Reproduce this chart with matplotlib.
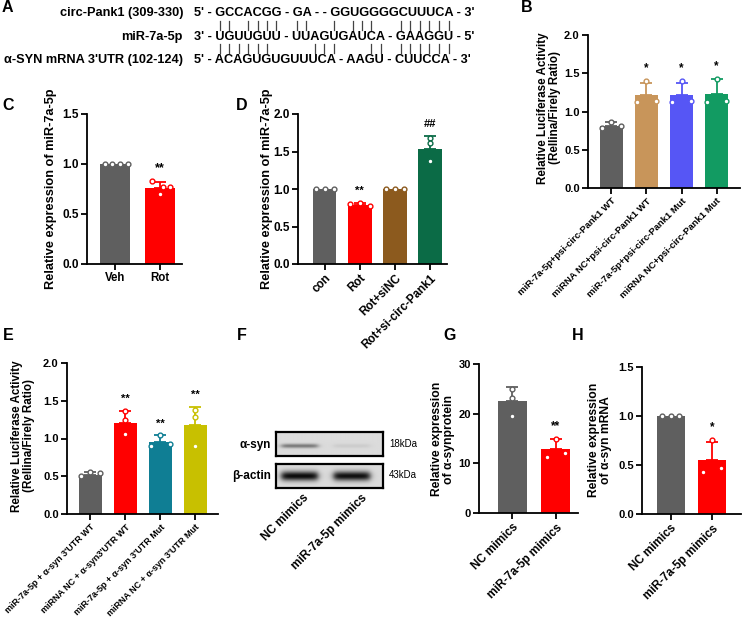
import numpy as np
import matplotlib
matplotlib.use('Agg')
import matplotlib.pyplot as plt
from matplotlib.lines import Line2D
from matplotlib.font_manager import FontProperties

plt.rcParams['font.family'] = ['Liberation Sans', 'DejaVu Sans']
plt.rcParams['font.weight'] = 'bold'

### data
seq_names = ['circ-Pank1 (309-330)', 'miR-7a-5p', "α-SYN mRNA 3'UTR (102-124)"]
seq_rows = ["5' - GCCACGG - GA - - GGUGGGGCUUUCA - 3'",
            "3' - UGUUGUU - UUAGUGAUCA - GAAGGU - 5'",
            "5' - ACAGUGUGUUUCA - AAGU - CUUCCA - 3'"]
# miR-7a-5p bases (1-based, counted 3'->5') paired with circ-Pank1 / alpha-SYN
pair_circ = [1, 2, 4, 5, 6, 7, 8, 9, 12, 14, 15, 16, 18, 19, 20, 21, 22, 23]
pair_syn = [1, 2, 3, 4, 5, 6, 10, 11, 12, 16, 17, 18, 19, 20, 21, 22, 23]

b_groups = ['miR-7a-5p+psi-circ-Pank1 WT', 'miRNA NC+psi-circ-Pank1 WT',
            'miR-7a-5p+psi-circ-Pank1 Mut', 'miRNA NC+psi-circ-Pank1 Mut']
b_mean = [0.81, 1.22, 1.21, 1.23]
b_sd = [0.05, 0.15, 0.16, 0.19]
b_points = [[0.78, 0.86, 0.81], [1.13, 1.40, 1.14], [1.13, 1.40, 1.14], [1.12, 1.43, 1.14]]
b_sig = ['', '*', '*', '*']

c_groups = ['Veh', 'Rot']
c_mean = [1.0, 0.765]
c_sd = [0.0, 0.055]
c_points = [[1.0, 1.0, 1.0, 1.0], [0.83, 0.70, 0.77, 0.775]]
c_sig = ['', '**']

d_groups = ['con', 'Rot', 'Rot+siNC', 'Rot+si-circ-Pank1']
d_mean = [1.0, 0.79, 1.0, 1.54]
d_sd = [0.0, 0.02, 0.0, 0.17]
d_points = [[1.0, 1.0, 1.0], [0.80, 0.82, 0.77], [1.0, 1.0, 1.0], [1.68, 1.61, 1.38]]
d_sig = ['', '**', '', '##']

e_groups = ["miR-7a-5p + α-syn 3'UTR WT", "miRNA NC + α-syn3'UTR WT",
            "miR-7a-5p + α-syn 3'UTR Mut", "miRNA NC + α-syn 3'UTR Mut"]
e_mean = [0.52, 1.20, 0.95, 1.18]
e_sd = [0.03, 0.16, 0.09, 0.24]
e_points = [[0.50, 0.55, 0.54], [1.37, 1.25, 1.06], [0.90, 1.04, 0.93], [1.38, 1.28, 0.90]]
e_sig = ['', '**', '**', '**']

f_lanes = ['NC mimics', 'miR-7a-5p mimics']
f_asyn = [0.45, 0.07]     # band darkness
f_actin = [0.95, 0.93]

g_groups = ['NC mimics', 'miR-7a-5p mimics']
g_mean = [22.5, 12.8]
g_sd = [2.8, 2.0]
g_points = [[24.96, 23.2, 19.5], [14.96, 11.3, 12.1]]
g_sig = ['', '**']

h_groups = ['NC mimics', 'miR-7a-5p mimics']
h_mean = [1.0, 0.55]
h_sd = [0.0, 0.18]
h_points = [[1.0, 1.0, 1.0], [0.76, 0.43, 0.47]]
h_sig = ['', '*']

GREY = '#5f5f5f'
RED = '#ff0000'

W, H = 742, 623
fig = plt.figure(figsize=(W / 100, H / 100), dpi=100)


def px_axes(x0, x1, ytop, ybot):
    return fig.add_axes([x0 / W, 1 - ybot / H, (x1 - x0) / W, (ybot - ytop) / H])


def ftext(x, y, s, **kw):
    return fig.text(x / W, 1 - y / H, s, **kw)


def bar_panel(ax, labels, means, sds, points, colors, offsets, sig, ymax, step, xlim,
              tick_fs=7, xlab_fs=7, rot=45, sig_fs=8.5, width=0.67):
    x = np.arange(len(means))
    ax.bar(x, means, width=width, color=colors, zorder=2)
    for i in x:
        if sds[i] > 0:
            ax.errorbar(i, means[i], yerr=[[0], [sds[i]]], fmt='none', ecolor=colors[i],
                        elinewidth=1.3, capsize=4.5, capthick=1.3, zorder=2.5)
        ax.scatter(i + np.array(offsets[i]), points[i], s=12, facecolor='white',
                   edgecolor=colors[i], linewidth=1.0, zorder=3, clip_on=False)
        if sig[i]:
            top = max(means[i] + sds[i], max(points[i]))
            ax.text(i, top + 0.045 * ymax, sig[i], ha='center', va='bottom',
                    fontsize=sig_fs, fontweight='bold')
    ax.set_ylim(0, ymax)
    ax.set_yticks(np.arange(0, ymax + step / 2, step))
    ax.set_xlim(*xlim)
    ax.set_xticks(x)
    for s in ['top', 'right']:
        ax.spines[s].set_visible(False)
    for s in ['left', 'bottom']:
        ax.spines[s].set_linewidth(1.3)
    ax.tick_params(width=1.3, length=4, pad=2)
    ax.tick_params(axis='y', labelsize=tick_fs)
    if rot:
        ax.set_xticklabels(labels, rotation=rot, ha='right', rotation_mode='anchor',
                           fontsize=xlab_fs, fontweight='bold')
    else:
        ax.set_xticklabels(labels, fontsize=xlab_fs, fontweight='bold')
    for lab in ax.get_yticklabels():
        lab.set_fontweight('bold')


### A: sequence alignment
seq_fs = 9.2
x_seq = 194
row_y = [13, 37, 60]
for name, row, y in zip(seq_names, seq_rows, row_y):
    ftext(183, y, name, ha='right', va='center', fontsize=seq_fs, fontweight='bold')
    ftext(x_seq, y, row, ha='left', va='center', fontsize=seq_fs, fontweight='bold')

renderer = fig.canvas.get_renderer()
fp = FontProperties(family='Liberation Sans', weight='bold', size=seq_fs)


def base_centres(s):
    out = []
    for i, ch in enumerate(s):
        if ch in 'ACGU':
            w_all = renderer.get_text_width_height_descent(s[:i + 1], fp, ismath=False)[0]
            w_ch = renderer.get_text_width_height_descent(ch, fp, ismath=False)[0]
            out.append(x_seq + w_all - w_ch / 2)
    return out


mir_x = base_centres(seq_rows[1])
for idx_list, (ya, yb) in [(pair_circ, (21, 30)), (pair_syn, (44, 53))]:
    for k in idx_list:
        xx = mir_x[k - 1] / W
        fig.add_artist(Line2D([xx, xx], [1 - ya / H, 1 - yb / H], transform=fig.transFigure,
                              color='#444444', linewidth=0.9))

### B
axB = px_axes(588, 740, 35, 188)
bar_panel(axB, b_groups, b_mean, b_sd, b_points, [GREY, '#c8955a', '#5656f5', '#129b62'],
          [[-0.27, 0, 0.27]] * 4, b_sig, 2.0, 0.5, (-0.67, 3.67), tick_fs=8, xlab_fs=6.8)
ftext(549, 108, 'Relative Luciferase Activity\n(Rellina/Firely Ratio)', rotation=90,
      ha='center', va='center', fontsize=8.4, fontweight='bold', multialignment='center',
      linespacing=1.1)

### C
axC = px_axes(87, 182, 114, 264)
bar_panel(axC, c_groups, c_mean, c_sd, c_points, [GREY, RED],
          [[-0.22, -0.07, 0.1, 0.28], [-0.19, -0.01, 0.07, 0.22]], c_sig, 1.5, 0.5,
          (-0.62, 1.48), tick_fs=8.5, xlab_fs=8.3, rot=0, sig_fs=9)
ftext(51, 189, 'Relative expression of miR-7a-5p', rotation=90, ha='center', va='center',
      fontsize=9.2, fontweight='bold')

### D
axD = px_axes(298, 447, 114, 264)
bar_panel(axD, d_groups, d_mean, d_sd, d_points, [GREY, RED, '#8c5a1e', '#0b6b46'],
          [[-0.26, 0, 0.27], [-0.27, 0, 0.28], [-0.25, 0, 0.26], [0, 0, 0]], d_sig, 2.0, 0.5,
          (-0.76, 3.48), tick_fs=8.5, xlab_fs=8.4, sig_fs=8)
ftext(267, 189, 'Relative expression of miR-7a-5p', rotation=90, ha='center', va='center',
      fontsize=9.2, fontweight='bold')

### E
axE = px_axes(67, 218, 363, 514)
bar_panel(axE, e_groups, e_mean, e_sd, e_points, [GREY, RED, '#0f7e94', '#c8c000'],
          [[-0.27, 0, 0.27], [0, 0, 0], [-0.26, 0, 0.27], [0, 0, 0]], e_sig, 2.0, 0.5,
          (-0.67, 3.65), tick_fs=8, xlab_fs=6.5, sig_fs=8)
ftext(23, 436, 'Relative Luciferase Activity\n(Rellina/Firely Ratio)', rotation=90,
      ha='center', va='center', fontsize=8.4, fontweight='bold', multialignment='center',
      linespacing=1.1)

### F: western blot
def blot(ax, dark, centre_y, thick):
    xs = np.linspace(0, 1, 200)
    ys = np.linspace(0, 1, 60)
    X, Y = np.meshgrid(xs, ys)
    img = np.full_like(X, 0.86)
    for lane, d in zip([0.22, 0.71], dark):
        horiz = 1 / (1 + np.exp(-(X - (lane - 0.17)) * 60)) * 1 / (1 + np.exp((X - (lane + 0.17)) * 60))
        vert = np.exp(-((Y - centre_y) / thick) ** 2)
        img = img - d * 0.86 * horiz * vert
    ax.imshow(img, cmap='gray', vmin=0, vmax=1, extent=[0, 1, 0, 1], aspect='auto', origin='lower')
    ax.set_xticks([])
    ax.set_yticks([])
    for s in ax.spines.values():
        s.set_linewidth(1.6)


axF1 = px_axes(276, 383, 432, 456)
blot(axF1, f_asyn, 0.42, 0.09)
axF2 = px_axes(276, 383, 464, 488)
blot(axF2, f_actin, 0.5, 0.2)
ftext(271, 445, 'α-syn', ha='right', va='center', fontsize=8.5, fontweight='bold')
ftext(271, 476, 'β-actin', ha='right', va='center', fontsize=8.5, fontweight='bold')
ftext(389, 444, '18kDa', ha='left', va='center', fontsize=7, fontweight='normal')
ftext(389, 475, '43kDa', ha='left', va='center', fontsize=7, fontweight='normal')
for lab, xc in zip(f_lanes, [303, 361]):
    ftext(xc, 492, lab, rotation=45, ha='right', va='top', rotation_mode='anchor',
          fontsize=8.5, fontweight='bold')

### G
axG = px_axes(479, 578, 364, 513)
bar_panel(axG, g_groups, g_mean, g_sd, g_points, [GREY, RED],
          [[0, 0, 0], [0, -0.21, 0.21]], g_sig, 30, 10, (-0.77, 1.51), tick_fs=8, xlab_fs=8.4)
ftext(443, 439, 'Relative expression\nof α-synprotein', rotation=90, ha='center', va='center',
      fontsize=8.7, fontweight='bold', multialignment='center', linespacing=1.1)

### H
axH = px_axes(642, 741, 367, 514)
bar_panel(axH, h_groups, h_mean, h_sd, h_points, [GREY, RED],
          [[-0.2, 0, 0.2], [0, -0.22, 0.22]], h_sig, 1.5, 0.5, (-0.69, 1.69), tick_fs=8, xlab_fs=8.4)
ftext(600, 440, 'Relative expression\nof α-syn mRNA', rotation=90, ha='center', va='center',
      fontsize=8.7, fontweight='bold', multialignment='center', linespacing=1.1)

### panel letters
for letter, (px, py) in zip('ABCDEFGH', [(7, 8), (527, 8), (8, 105), (242, 105),
                                          (8, 336), (242, 336), (450, 336), (578, 336)]):
    ftext(px, py, letter, ha='center', va='center', fontsize=11.5, fontweight='bold')

fig.savefig('out.png', dpi=100)
